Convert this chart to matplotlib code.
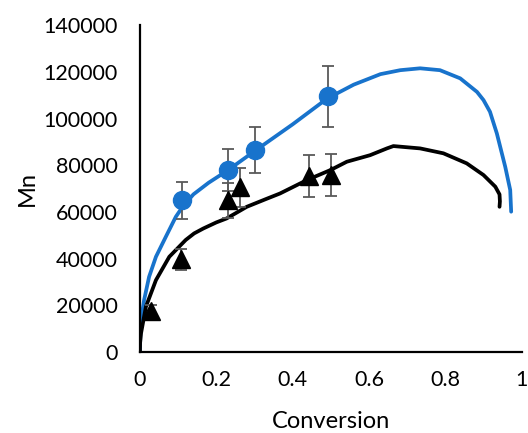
import matplotlib.pyplot as plt

plt.rcParams['font.family'] = ['Lato', 'DejaVu Sans']

# model curves
model_a_x = [0, 0.001, 0.003, 0.011, 0.024, 0.042, 0.068, 0.094, 0.111, 0.14, 0.18,
             0.23, 0.30, 0.40, 0.49, 0.56, 0.63, 0.682, 0.734, 0.786, 0.839, 0.883,
             0.90, 0.917, 0.935, 0.957, 0.970, 0.9725]
model_a_y = [0, 7000, 13700, 22300, 32200, 40800, 49400, 57900, 62000, 67500, 72500,
             77800, 86000, 97500, 108500, 114500, 119000, 120700, 121500, 120700,
             117200, 111400, 107900, 102900, 93600, 79300, 69400, 60100]

model_b_x = [0, 0.0005, 0.003, 0.0157, 0.042, 0.077, 0.12, 0.142, 0.166, 0.2, 0.227,
             0.28, 0.33, 0.367, 0.437, 0.5, 0.542, 0.603, 0.647, 0.664, 0.734, 0.795,
             0.856, 0.9, 0.931, 0.942, 0.943, 0.942]
model_b_y = [0, 4000, 8100, 19400, 30800, 40800, 48000, 50800, 52900, 55500, 57200,
             62200, 65500, 67900, 73600, 78000, 81500, 84300, 87200, 88200, 87200,
             85100, 80800, 75800, 70800, 67500, 64500, 62200]

# measured points
circ_x = [0.111, 0.230, 0.301, 0.493]
circ_y = [65000, 78000, 86500, 109500]
circ_err = [8000, 9000, 10000, 13000]

tri_x = [0.029, 0.108, 0.232, 0.263, 0.443, 0.501]
tri_y = [17500, 39700, 65000, 70500, 75500, 76000]
tri_err = [2500, 4600, 7500, 8500, 9000, 9000]

blue = '#1873CC'
err_col = '#595959'

fig = plt.figure(figsize=(5.28, 4.33), dpi=100)
ax = fig.add_axes([0.265, 0.187, 0.723, 0.755])

ax.plot(model_a_x, model_a_y, color=blue, lw=2.7, solid_capstyle='round',
        solid_joinstyle='round', zorder=2)
ax.plot(model_b_x, model_b_y, color='black', lw=2.7, solid_capstyle='round',
        solid_joinstyle='round', zorder=2)

ax.errorbar(circ_x, circ_y, yerr=circ_err, fmt='o', color=blue, ms=13,
            ecolor=err_col, elinewidth=1.3, capsize=4, capthick=1.3, zorder=3)
ax.errorbar(tri_x, tri_y, yerr=tri_err, fmt='^', color='black', ms=13,
            ecolor=err_col, elinewidth=1.3, capsize=4, capthick=1.3, zorder=3)

ax.set_xlim(0, 1)
ax.set_ylim(0, 140000)
ax.set_xticks([0, 0.2, 0.4, 0.6, 0.8, 1])
ax.set_xticklabels(['0', '0.2', '0.4', '0.6', '0.8', '1'])
ax.set_yticks(range(0, 140001, 20000))
ax.tick_params(length=0, labelsize=15.5)
ax.tick_params(axis='y', pad=16)
ax.tick_params(axis='x', pad=13)
for s in ['top', 'right']:
    ax.spines[s].set_visible(False)
for s in ['left', 'bottom']:
    ax.spines[s].set_linewidth(1.6)
ax.set_xlabel('Conversion', fontsize=17, labelpad=15)
ax.set_ylabel('Mn', fontsize=17, labelpad=4)

fig.savefig('out.png', dpi=100)
